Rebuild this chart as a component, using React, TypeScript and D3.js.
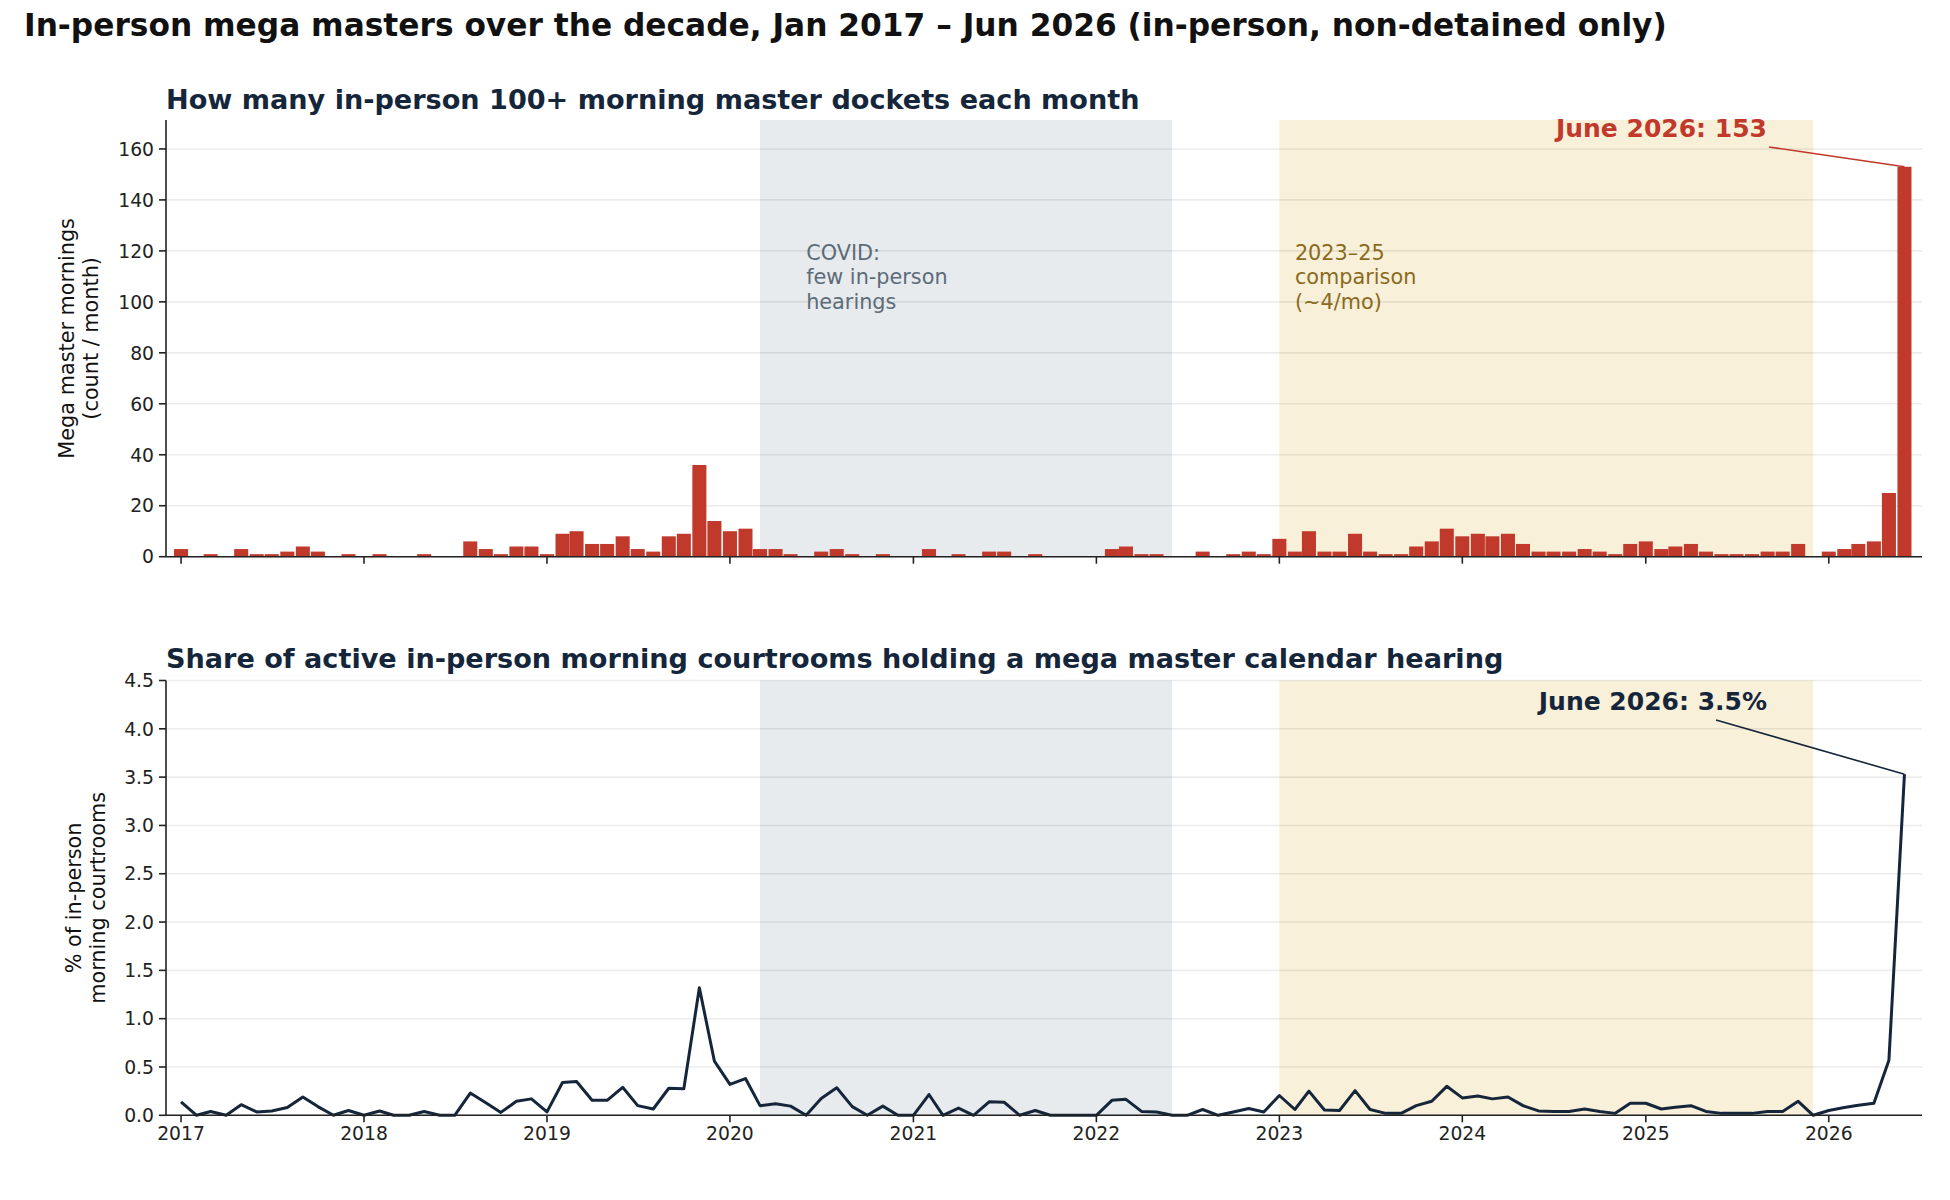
import { useEffect, useRef } from 'react';
import * as d3 from 'd3';

// monthly counts of in-person 100+ morning master dockets, Jan 2017 .. Jun 2026
const monthlyCounts = [
  3, 0, 1, 0, 3, 1, 1, 2, 4, 2, 0, 1,
  0, 1, 0, 0, 1, 0, 0, 6, 3, 1, 4, 4,
  1, 9, 10, 5, 5, 8, 3, 2, 8, 9, 36, 14,
  10, 11, 3, 3, 1, 0, 2, 3, 1, 0, 1, 0,
  0, 3, 0, 1, 0, 2, 2, 0, 1, 0, 0, 0,
  0, 3, 4, 1, 1, 0, 0, 2, 0, 1, 2, 1,
  7, 2, 10, 2, 2, 9, 2, 1, 1, 4, 6, 11,
  8, 9, 8, 9, 5, 2, 2, 2, 3, 2, 1, 5,
  6, 3, 4, 5, 2, 1, 1, 1, 2, 2, 5, 0,
  2, 3, 5, 6, 25, 153,
];

// % of active in-person morning courtrooms with a mega master calendar
const monthlyShare = [
  0.14, 0, 0.04, 0, 0.11, 0.035, 0.045, 0.08, 0.19, 0.09, 0, 0.05,
  0, 0.045, 0, 0, 0.04, 0, 0, 0.23, 0.13, 0.03, 0.145, 0.17,
  0.035, 0.34, 0.35, 0.155, 0.155, 0.29, 0.1, 0.065, 0.28, 0.275, 1.32, 0.56,
  0.32, 0.38, 0.1, 0.12, 0.095, 0, 0.175, 0.285, 0.09, 0, 0.095, 0,
  0, 0.215, 0, 0.075, 0, 0.14, 0.135, 0, 0.05, 0, 0, 0,
  0, 0.155, 0.165, 0.04, 0.035, 0, 0, 0.06, 0, 0.035, 0.07, 0.035,
  0.205, 0.06, 0.25, 0.055, 0.05, 0.255, 0.06, 0.02, 0.02, 0.1, 0.145, 0.3,
  0.18, 0.2, 0.17, 0.19, 0.1, 0.045, 0.04, 0.04, 0.065, 0.04, 0.02, 0.125,
  0.125, 0.065, 0.083, 0.1, 0.04, 0.02, 0.02, 0.02, 0.04, 0.04, 0.145, 0,
  0.05, 0.08, 0.105, 0.125, 0.57, 3.53,
];

const yearTicks = [2017, 2018, 2019, 2020, 2021, 2022, 2023, 2024, 2025, 2026];
const countTicks = [0, 20, 40, 60, 80, 100, 120, 140, 160];
const shareTicks = [0, 0.5, 1, 1.5, 2, 2.5, 3, 3.5, 4, 4.5];

const covidPeriod = [new Date(2020, 2, 1), new Date(2022, 5, 1)];
const comparePeriod = [new Date(2023, 0, 1), new Date(2025, 11, 1)];

const FONT = 'DejaVu Sans';
const RED = '#c0392b';
const NAVY = '#15263b';

export default function App() {
  const svgRef = useRef<SVGSVGElement>(null);

  useEffect(() => {
    const svg = d3.select(svgRef.current);
    svg.selectAll('*').remove();

    const months = d3.timeMonth.range(new Date(2017, 0, 1), new Date(2026, 6, 1));
    const data = months.map((m, i) => ({ date: m, count: monthlyCounts[i], share: monthlyShare[i] }));
    const last = data[data.length - 1];

    const left = 166, right = 1922;
    const x = d3.scaleTime()
      .domain([new Date(2016, 11, 2), new Date(2026, 6, 6)])
      .range([left, right]);

    const yTop = d3.scaleLinear().domain([0, 153 * 1.12]).range([556.7, 120]);
    const yBot = d3.scaleLinear().domain([0, 4.5]).range([1115.3, 680.5]);

    svg.append('text')
      .attr('x', 24).attr('y', 36)
      .attr('font-family', FONT).attr('font-weight', 'bold').attr('font-size', 31.25)
      .attr('fill', '#111')
      .text('In-person mega masters over the decade, Jan 2017 \u2013 Jun 2026 (in-person, non-detained only)');

    const panel = (y: d3.ScaleLinear<number, number>, ticks: number[], fmt: (v: number) => string,
      title: string, ylabel: string[], titleGap: number, labelOffset: number) => {
      const [y0, y1] = y.range();
      const g = svg.append('g');

      g.append('rect')
        .attr('x', x(covidPeriod[0])).attr('width', x(covidPeriod[1]) - x(covidPeriod[0]))
        .attr('y', y1).attr('height', y0 - y1).attr('fill', '#e7ebee');
      g.append('rect')
        .attr('x', x(comparePeriod[0])).attr('width', x(comparePeriod[1]) - x(comparePeriod[0]))
        .attr('y', y1).attr('height', y0 - y1).attr('fill', '#f9f0da');

      g.selectAll('.grid').data(ticks).enter().append('line')
        .attr('x1', left).attr('x2', right)
        .attr('y1', d => y(d)).attr('y2', d => y(d))
        .attr('stroke', '#000').attr('stroke-opacity', 0.075).attr('stroke-width', 1.6);

      g.append('text')
        .attr('x', left).attr('y', y1 - titleGap)
        .attr('font-family', FONT).attr('font-weight', 'bold').attr('font-size', 27.1)
        .attr('fill', NAVY).text(title);

      // y axis
      const ya = g.append('g');
      ya.append('line').attr('x1', left).attr('x2', left).attr('y1', y0).attr('y2', y1)
        .attr('stroke', '#222').attr('stroke-width', 1.6);
      ya.selectAll('.t').data(ticks).enter().append('line')
        .attr('x1', left - 7).attr('x2', left).attr('y1', d => y(d)).attr('y2', d => y(d))
        .attr('stroke', '#222').attr('stroke-width', 1.6);
      ya.selectAll('.l').data(ticks).enter().append('text')
        .attr('x', left - 12).attr('y', d => y(d)).attr('dy', '0.36em')
        .attr('text-anchor', 'end').attr('font-family', FONT).attr('font-size', 18.75)
        .attr('fill', '#222').text(fmt);

      const cy = (y0 + y1) / 2;
      const lab = g.append('text')
        .attr('transform', `translate(${left - labelOffset},${cy}) rotate(-90)`)
        .attr('text-anchor', 'middle').attr('font-family', FONT).attr('font-size', 20.8).attr('fill', '#111');
      ylabel.forEach((s, i) => {
        lab.append('tspan').attr('x', 0).attr('dy', i === 0 ? 0 : '1.15em').text(s);
      });

      return g;
    };

    const topG = panel(yTop, countTicks, d => String(d),
      'How many in-person 100+ morning master dockets each month',
      ['Mega master mornings', '(count / month)'], 11, 92);

    const botG = panel(yBot, shareTicks, d => d.toFixed(1),
      'Share of active in-person morning courtrooms holding a mega master calendar hearing',
      ['% of in-person', 'morning courtrooms'], 13, 85);

    // bars, 28 days wide centred on the month start
    const half = 14 * 24 * 3600 * 1000;
    topG.selectAll('.bar').data(data.filter(d => d.count > 0)).enter().append('rect')
      .attr('x', d => x(new Date(+d.date - half)))
      .attr('width', d => x(new Date(+d.date + half)) - x(new Date(+d.date - half)))
      .attr('y', d => yTop(d.count))
      .attr('height', d => yTop(0) - yTop(d.count))
      .attr('fill', RED);

    // share line
    const line = d3.line<typeof data[0]>().x(d => x(d.date)).y(d => yBot(d.share));
    botG.append('path').datum(data).attr('d', line)
      .attr('fill', 'none').attr('stroke', NAVY).attr('stroke-width', 3).attr('stroke-linejoin', 'round');

    // x axes (bottom spine + year ticks)
    [yTop, yBot].forEach((y, i) => {
      const by = y(0);
      svg.append('line').attr('x1', left).attr('x2', right).attr('y1', by).attr('y2', by)
        .attr('stroke', '#222').attr('stroke-width', 1.6);
      svg.selectAll(null).data(yearTicks).enter().append('line')
        .attr('x1', d => x(new Date(d, 0, 1))).attr('x2', d => x(new Date(d, 0, 1)))
        .attr('y1', by).attr('y2', by + 7).attr('stroke', '#222').attr('stroke-width', 1.6);
      if (i === 1) {
        svg.selectAll(null).data(yearTicks).enter().append('text')
          .attr('x', d => x(new Date(d, 0, 1))).attr('y', by + 25)
          .attr('text-anchor', 'middle').attr('font-family', FONT).attr('font-size', 18.75)
          .attr('fill', '#222').text(d => String(d));
      }
    });

    // shaded period labels
    const regionLabel = (lines: string[], date: Date, color: string) => {
      const t = topG.append('text').attr('font-family', FONT).attr('font-size', 20.8).attr('fill', color);
      lines.forEach((s, i) => {
        t.append('tspan').attr('x', x(date)).attr('y', 260 + i * 24.4).text(s);
      });
    };
    regionLabel(['COVID:', 'few in-person', 'hearings'], new Date(2020, 5, 1), '#5d6b78');
    regionLabel(['2023\u201325', 'comparison', '(~4/mo)'], new Date(2023, 1, 1), '#8a6a1c');

    // callouts on the final month
    const px = x(last.date);
    topG.append('line')
      .attr('x1', 1769).attr('y1', 147).attr('x2', px).attr('y2', yTop(last.count))
      .attr('stroke', RED).attr('stroke-width', 1.6);
    topG.append('text')
      .attr('x', 1767).attr('y', 137).attr('text-anchor', 'end')
      .attr('font-family', FONT).attr('font-weight', 'bold').attr('font-size', 25).attr('fill', RED)
      .text(`June 2026: ${last.count}`);

    botG.append('line')
      .attr('x1', 1716).attr('y1', 720).attr('x2', px).attr('y2', yBot(last.share))
      .attr('stroke', NAVY).attr('stroke-width', 1.6);
    botG.append('text')
      .attr('x', 1767).attr('y', 710).attr('text-anchor', 'end')
      .attr('font-family', FONT).attr('font-weight', 'bold').attr('font-size', 25).attr('fill', NAVY)
      .text(`June 2026: ${last.share.toFixed(1)}%`);
  }, []);

  return (
    <svg ref={svgRef} width={1950} height={1200}
      style={{ position: 'absolute', left: 0, top: 0, background: '#fff', display: 'block' }} />
  );
}
